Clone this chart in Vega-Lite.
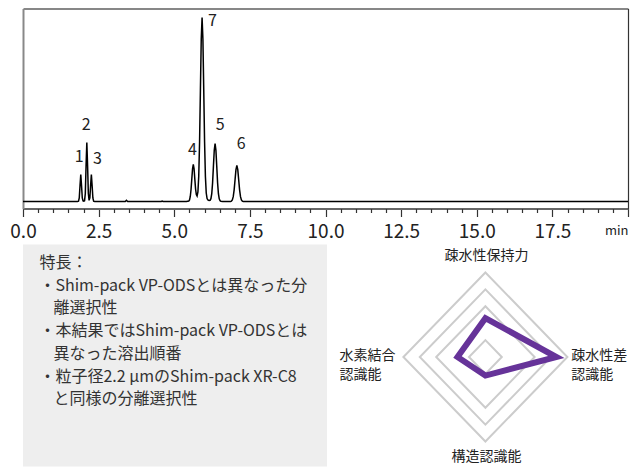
{
  "$schema": "https://vega.github.io/schema/vega-lite/v6.json",
  "padding": {"left": 9, "top": 8.5, "right": 0, "bottom": 0},
  "autosize": {"type": "pad"},
  "background": "white",
  "config": {"font": "Noto Sans CJK JP", "view": {"stroke": null}},
  "bounds": "flush",
  "spacing": 36,
  "vconcat": [
    {
      "width": 605,
      "height": 200,
      "resolve": {"axis": {"x": "independent", "y": "independent"}},
      "layer": [
        {
          "data": {"values": [
            {"t":0,"v":0},{"t":1.8,"v":0},{"t":1.835,"v":0.3},{"t":1.86,"v":3.5},{"t":1.885,"v":16},{"t":1.91,"v":27},{"t":1.935,"v":16},{"t":1.96,"v":3.5},{"t":1.985,"v":0.5},{"t":2.01,"v":0.3},
            {"t":2.035,"v":0.8},{"t":2.06,"v":8},{"t":2.085,"v":36},{"t":2.11,"v":59},{"t":2.135,"v":36},{"t":2.16,"v":8},{"t":2.185,"v":1.2},
            {"t":2.21,"v":3.6},{"t":2.235,"v":16},{"t":2.26,"v":27},{"t":2.285,"v":16},{"t":2.31,"v":3.5},{"t":2.335,"v":0.4},{"t":2.37,"v":0},
            {"t":3.38,"v":0},{"t":3.42,"v":1.2},{"t":3.46,"v":0},{"t":4.57,"v":0},{"t":4.6,"v":0.5},{"t":4.63,"v":0},
            {"t":5.4,"v":0},{"t":5.48,"v":0.4},{"t":5.505,"v":1.6},{"t":5.53,"v":5},{"t":5.555,"v":12},{"t":5.58,"v":22.4},{"t":5.605,"v":32.7},{"t":5.63,"v":37},{"t":5.655,"v":32.7},{"t":5.68,"v":22.4},{"t":5.705,"v":12.5},{"t":5.73,"v":7},{"t":5.755,"v":5.5},
            {"t":5.7825,"v":9.5},{"t":5.81,"v":25.5},{"t":5.8375,"v":59.7},{"t":5.865,"v":111.5},{"t":5.8925,"v":162.3},{"t":5.92,"v":184},{"t":5.9475,"v":162.3},{"t":5.975,"v":111.5},{"t":6.0025,"v":59.7},{"t":6.03,"v":25},{"t":6.0575,"v":8.5},{"t":6.085,"v":3},{"t":6.1125,"v":1.5},{"t":6.15,"v":1},
            {"t":6.185,"v":1.2},{"t":6.2125,"v":2.8},{"t":6.24,"v":7.8},{"t":6.2675,"v":18.8},{"t":6.295,"v":35.2},{"t":6.3225,"v":51.2},{"t":6.35,"v":58},{"t":6.3775,"v":51.2},{"t":6.405,"v":35.2},{"t":6.4325,"v":18.8},{"t":6.46,"v":7.8},{"t":6.4875,"v":2.6},{"t":6.515,"v":0.8},{"t":6.5425,"v":0.2},{"t":6.6,"v":0},
            {"t":6.86,"v":0.1},{"t":6.89,"v":0.4},{"t":6.92,"v":1.5},{"t":6.95,"v":4.8},{"t":6.98,"v":11.7},{"t":7.01,"v":21.8},{"t":7.04,"v":31.8},{"t":7.07,"v":36},{"t":7.1,"v":31.8},{"t":7.13,"v":21.8},{"t":7.16,"v":11.7},{"t":7.19,"v":4.8},{"t":7.22,"v":1.5},{"t":7.25,"v":0.4},{"t":7.28,"v":0.1},{"t":7.35,"v":0},
            {"t":20,"v":0}
          ]},
          "mark": {"type": "line", "color": "black", "strokeWidth": 1.5},
          "encoding": {
            "x": {
              "field": "t", "type": "quantitative",
              "scale": {"domain": [0, 20], "nice": false, "zero": false},
              "axis": {
                "orient": "bottom",
                "values": [0, 2.5, 5, 7.5, 10, 12.5, 15, 17.5, 20],
                "labelExpr": "datum.value < 20 ? format(datum.value, '.1f') : ''",
                "ticks": true, "tickSize": 8,
                "labelFontSize": 19, "labelColor": "#222", "labelPadding": 5.7, "labelOverlap": false, "labelFlush": false,
                "tickColor": "#333", "tickWidth": 1.2, "domainColor": "#666", "domainWidth": 2, "grid": false,
                "title": "min", "titleFontSize": 13, "titleFontWeight": "normal", "titleColor": "#222",
                "titleAnchor": "end", "titleAlign": "right", "titleBaseline": "alphabetic", "titleX": 605, "titleY": 26
              }
            },
            "y": {
              "field": "v", "type": "quantitative",
              "scale": {"domain": [-7, 193], "nice": false, "zero": false},
              "axis": {"orient": "left", "labels": false, "ticks": false, "title": null, "grid": false, "domainColor": "#888", "domainWidth": 2}
            }
          }
        },
        {
          "data": {"values": [
            {"n":"1","t":1.86,"v":45},{"n":"2","t":2.09,"v":77},{"n":"3","t":2.46,"v":43},
            {"n":"4","t":5.6,"v":52},{"n":"5","t":6.52,"v":77},{"n":"6","t":7.21,"v":58},{"n":"7","t":6.26,"v":181}
          ]},
          "mark": {"type": "text", "fontSize": 16, "color": "#222", "align": "center", "baseline": "middle"},
          "encoding": {
            "x": {
              "field": "t", "type": "quantitative",
              "axis": {
                "orient": "bottom",
                "values": [0.5,1,1.5,2,3,3.5,4,4.5,5.5,6,6.5,7,8,8.5,9,9.5,10.5,11,11.5,12,13,13.5,14,14.5,15.5,16,16.5,17,18,18.5,19,19.5],
                "labels": false, "domain": false, "grid": false, "title": null,
                "ticks": true, "tickSize": 4, "tickColor": "#333", "tickWidth": 1.2
              }
            },
            "y": {"field": "v", "type": "quantitative", "axis": null},
            "text": {"field": "n"}
          }
        },
        {
          "data": {"values": [
            {"n":"1","t":1.86,"v":45},{"n":"7","t":6.26,"v":181}
          ]},
          "mark": {"type": "point", "opacity": 0},
          "encoding": {
            "x": {
              "field": "t", "type": "quantitative",
              "axis": {"orient": "top", "labels": false, "ticks": false, "grid": false, "title": null, "domainColor": "#111", "domainWidth": 1.2}
            },
            "y": {
              "field": "v", "type": "quantitative",
              "axis": {"orient": "right", "labels": false, "ticks": false, "grid": false, "title": null, "domainColor": "#333", "domainWidth": 1.2}
            }
          }
        }
      ]
    },
    {
      "bounds": "flush",
      "spacing": 3,
      "hconcat": [
        {
          "width": 304,
          "height": 222,
          "view": {"fill": "#eeeeee", "stroke": null},
          "data": {"values": [
            {"line":0,"indent":0,"text":"特長："},
            {"line":1,"indent":0,"text":"・Shim-pack VP-ODSとは異なった分"},
            {"line":2,"indent":1,"text":"離選択性"},
            {"line":3,"indent":0,"text":"・本結果ではShim-pack VP-ODSとは"},
            {"line":4,"indent":1,"text":"異なった溶出順番"},
            {"line":5,"indent":0,"text":"・粒子径2.2 μmのShim-pack XR-C8"},
            {"line":6,"indent":1,"text":"と同様の分離選択性"}
          ]},
          "mark": {"type": "text", "align": "left", "baseline": "middle", "fontSize": 16, "color": "#333"},
          "encoding": {
            "x": {"field": "indent", "type": "quantitative", "scale": {"domain": [-1.171, 20.543], "nice": false, "zero": false}, "axis": null},
            "y": {"field": "line", "type": "quantitative", "scale": {"domain": [-0.813, 8.945], "nice": false, "zero": false, "reverse": true}, "axis": null},
            "text": {"field": "text"}
          }
        },
        {
          "width": 299,
          "height": 222,
          "layer": [
            {
              "data": {"values": [
                {"level":1,"k":0},{"level":1,"k":1},{"level":1,"k":2},{"level":1,"k":3},
                {"level":3,"k":0},{"level":3,"k":1},{"level":3,"k":2},{"level":3,"k":3},
                {"level":4,"k":0},{"level":4,"k":1},{"level":4,"k":2},{"level":4,"k":3},
                {"level":5,"k":0},{"level":5,"k":1},{"level":5,"k":2},{"level":5,"k":3}
              ]},
              "transform": [
                {"calculate": "datum.level * cos(PI / 2 - datum.k * PI / 2)", "as": "x"},
                {"calculate": "datum.level * sin(PI / 2 - datum.k * PI / 2)", "as": "y"}
              ],
              "mark": {"type": "line", "interpolate": "linear-closed", "stroke": "#cccccc", "strokeWidth": 2},
              "encoding": {
                "x": {"field": "x", "type": "quantitative", "scale": {"domain": [-9.476, 8.756], "nice": false, "zero": false}, "axis": null},
                "y": {"field": "y", "type": "quantitative", "scale": {"domain": [-6.479, 6.657], "nice": false, "zero": false}, "axis": null},
                "detail": {"field": "level"},
                "order": {"field": "k"}
              }
            },
            {
              "data": {"values": [
                {"axis":"疎水性保持力","k":0,"value":2.3},
                {"axis":"疎水性差認識能","k":1,"value":4.33},
                {"axis":"構造認識能","k":2,"value":1.1},
                {"axis":"水素結合認識能","k":3,"value":1.7}
              ]},
              "transform": [
                {"calculate": "datum.value * cos(PI / 2 - datum.k * PI / 2)", "as": "x"},
                {"calculate": "datum.value * sin(PI / 2 - datum.k * PI / 2)", "as": "y"}
              ],
              "mark": {"type": "line", "interpolate": "linear-closed", "stroke": "#663399", "strokeWidth": 6, "strokeJoin": "miter"},
              "encoding": {
                "x": {"field": "x", "type": "quantitative"},
                "y": {"field": "y", "type": "quantitative"},
                "order": {"field": "k"}
              }
            },
            {
              "data": {"values": [{"name": "疎水性保持力"}]},
              "mark": {"type": "text", "align": "center", "baseline": "middle", "fontSize": 14, "color": "#222"},
              "encoding": {"x": {"datum": 0.06}, "y": {"datum": 5.95}, "text": {"field": "name"}}
            },
            {
              "data": {"values": [{"name": "構造認識能"}]},
              "mark": {"type": "text", "align": "center", "baseline": "middle", "fontSize": 14, "color": "#222"},
              "encoding": {"x": {"datum": 0.06}, "y": {"datum": -5.89}, "text": {"field": "name"}}
            },
            {
              "data": {"values": [{"name": "疎水性差\n認識能"}]},
              "mark": {"type": "text", "align": "left", "baseline": "middle", "fontSize": 14, "color": "#222", "lineBreak": "\n", "lineHeight": 19},
              "encoding": {"x": {"datum": 5.24}, "y": {"datum": 0.06}, "text": {"field": "name"}}
            },
            {
              "data": {"values": [{"name": "水素結合\n認識能"}]},
              "mark": {"type": "text", "align": "left", "baseline": "middle", "fontSize": 14, "color": "#222", "lineBreak": "\n", "lineHeight": 19},
              "encoding": {"x": {"datum": -8.9}, "y": {"datum": 0.06}, "text": {"field": "name"}}
            }
          ]
        }
      ]
    }
  ]
}
